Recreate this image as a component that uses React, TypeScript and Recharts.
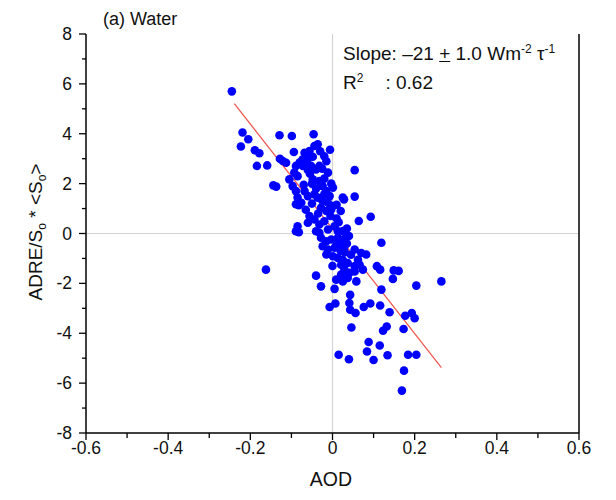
import { ReferenceLine, Scatter, ScatterChart, XAxis, YAxis } from 'recharts'

const aod = [
  -0.245, -0.219, -0.205, -0.223, -0.189, -0.178, -0.184, -0.159, -0.129, -0.099,
  -0.046, -0.006, -0.094, -0.128, -0.121, -0.144, -0.137, -0.089, -0.082, -0.085,
  -0.082, 0.054, 0.054, 0.028, 0.064, -0.105, -0.068, -0.056, -0.044, -0.036,
  -0.073, -0.061, -0.08, -0.089, -0.093, -0.085, -0.052, -0.04, -0.032, -0.011,
  -0.048, -0.032, -0.024, -0.097, -0.089, 0.001, 0.025, -0.068, -0.06, -0.044,
  -0.02, -0.007, -0.076, -0.085, -0.036, -0.024, -0.011, -0.028, -0.015, -0.003,
  -0.056, -0.044, -0.06, -0.032, -0.02, -0.089, 0.093, -0.04, -0.032, -0.011,
  0.005, 0.013, -0.028, -0.015, -0.003, 0.013, 0.021, -0.024, -0.011, 0.005,
  0.017, 0.029, 0.054, 0.07, 0.082, -0.015, 0.001, 0.013, 0.025, 0.037,
  0.021, 0.029, 0.041, 0.021, 0.054, 0.009, 0.025, 0.037, 0.058, -0.04,
  -0.028, 0.005, -0.162, -0.007, 0.007, 0.043, 0.041, 0.043, 0.056, 0.076,
  0.092, 0.116, 0.139, 0.177, 0.193, 0.2, 0.046, 0.123, 0.132, 0.173,
  0.088, 0.115, 0.084, 0.015, 0.04, 0.1, 0.134, 0.184, 0.204, 0.174,
  0.169, 0.204, 0.265, 0.119, 0.147, 0.149, 0.161, 0.108, 0.116, 0.054,
  0.066, 0.074, 0.119, -0.06, -0.048, -0.076, -0.072, -0.064, -0.113, -0.02,
  -0.03, -0.015, -0.02, -0.055, -0.003, 0.01, 0.02, 0.035, 0.04, -0.05,
  -0.065, 0.0, 0.01, 0.045, 0.03, 0.062, -0.05, -0.04, -0.025, -0.06,
  -0.015, 0.0, 0.01, -0.005, 0.015, 0.025, 0.03, -0.035, -0.07, 0.02,
  0.035,
]

const adre = [
  5.7, 4.05, 3.78, 3.49, 3.34, 3.22, 2.71, 2.73, 3.94, 3.91,
  3.98, 3.36, 3.27, 3.0, 2.91, 1.93, 1.88, 1.17, 1.13, 0.29,
  0.05, 2.54, 1.48, 1.37, 0.5, 2.17, 3.24, 3.31, 3.51, 3.58,
  2.97, 3.1, 2.85, 2.71, 2.44, 2.3, 2.71, 2.57, 2.71, 2.44,
  2.17, 2.1, 1.9, 1.9, 1.7, 1.84, 1.44, 1.7, 1.5, 1.57,
  1.57, 1.5, 1.23, 1.44, 1.44, 1.3, 1.23, 1.03, 0.9, 0.96,
  0.7, 0.56, 0.43, 0.36, 0.49, 0.09, 0.67, 0.09, 0.03, 0.16,
  0.29, 0.09, -0.17, -0.31, -0.24, -0.17, -0.31, -0.51, -0.64, -0.57,
  -0.57, -0.51, -0.64, -0.78, -0.84, -0.84, -0.91, -0.98, -1.05, -1.18,
  -1.25, -1.45, -1.58, -1.65, -1.52, -1.85, -1.92, -1.78, -1.92, -1.69,
  -2.12, -2.22, -1.45, -2.95, -2.81, -2.46, -2.79, -3.06, -3.19, -2.95,
  -2.81, -2.89, -3.16, -3.3, -3.19, -3.4, -3.77, -3.9, -3.73, -3.83,
  -4.35, -4.49, -4.73, -4.86, -5.04, -5.07, -4.88, -4.86, -4.86, -5.5,
  -6.3, -2.09, -1.92, -0.37, -1.82, -1.48, -1.5, -1.31, -1.45, -1.31,
  -1.25, -1.45, -2.25, 3.0, 3.08, 2.87, 2.71, 2.78, 2.84, 3.1,
  3.3, 2.9, 2.2, 2.4, 2.0, 0.6, 0.9, 0.2, -0.1, 1.2,
  0.95, -1.3, -0.45, -0.85, -0.75, -1.05, 2.0, 1.8, 2.6, 2.55,
  1.7, 1.1, 1.15, 0.7, 0.45, 0.1, -0.2, 0.8, 1.95, -0.7,
  -0.4,
]

// fitted line end points
const fitAod = [-0.239, 0.265]
const fitAdre = [5.21, -5.375]

const xTicks = [-0.6, -0.5, -0.4, -0.3, -0.2, -0.1, 0, 0.1, 0.2, 0.3, 0.4, 0.5, 0.6]
const xMajor = [-0.6, -0.4, -0.2, 0, 0.2, 0.4, 0.6]
const yTicks = [-8, -7, -6, -5, -4, -3, -2, -1, 0, 1, 2, 3, 4, 5, 6, 7, 8]
const yMajor = [-8, -6, -4, -2, 0, 2, 4, 6, 8]

const punkte = aod.map((x, i) => ({ x, y: adre[i] }))

const ehMajor = (lista: number[], v: number) => lista.some((m) => Math.abs(m - v) < 1e-9)
const fmtX = (v: number) => (Math.abs(v) < 1e-9 ? '0' : v.toFixed(1))

const XTick = (props: any) => {
  const { x, y, payload } = props
  const major = ehMajor(xMajor, payload.value)
  return (
    <g>
      <line x1={x} x2={x} y1={y} y2={y + (major ? 7 : 5)} stroke="#000" strokeWidth={1.3} />
      {major && (
        <text x={x} y={y + 21} textAnchor="middle" fontSize={17.5} fill="#111">
          {fmtX(payload.value)}
        </text>
      )}
    </g>
  )
}

const YTickEsq = (props: any) => {
  const { x, y, payload } = props
  const major = ehMajor(yMajor, payload.value)
  return (
    <g>
      <line x1={x} x2={x - (major ? 7 : 4)} y1={y} y2={y} stroke="#000" strokeWidth={1.3} />
      {major && (
        <text x={x - 14} y={y + 6} textAnchor="end" fontSize={17.5} fill="#111">
          {payload.value}
        </text>
      )}
    </g>
  )
}

const YTickDir = (props: any) => {
  const { x, y, payload } = props
  const major = ehMajor(yMajor, payload.value)
  return <line x1={x} x2={x + (major ? 7 : 4)} y1={y} y2={y} stroke="#000" strokeWidth={1.3} />
}

const Ponto = (props: any) => <circle cx={props.cx} cy={props.cy} r={4.3} fill="#0000ff" />

export default function App() {
  const fonte = '"Liberation Sans", Arial, sans-serif'
  return (
    <div
      style={{
        position: 'absolute',
        left: 0,
        top: 0,
        width: 616,
        height: 500,
        background: '#fff',
        fontFamily: fonte,
        color: '#111',
      }}
    >
      <ScatterChart width={616} height={500} margin={{ top: 34, right: 0, bottom: 0, left: 0 }}>
        <XAxis
          type="number"
          dataKey="x"
          domain={[-0.6, 0.6]}
          ticks={xTicks}
          interval={0}
          tick={XTick}
          tickLine={false}
          tickSize={0}
          tickMargin={0}
          height={67}
          axisLine={{ stroke: '#000', strokeWidth: 1.5 }}
        />
        <XAxis
          xAxisId="topo"
          orientation="top"
          type="number"
          domain={[-0.6, 0.6]}
          tick={false}
          tickLine={false}
          height={0}
          axisLine={{ stroke: '#000', strokeWidth: 1.5 }}
        />
        <YAxis
          type="number"
          dataKey="y"
          domain={[-8, 8]}
          ticks={yTicks}
          interval={0}
          tick={YTickEsq}
          tickLine={false}
          tickSize={0}
          tickMargin={0}
          width={86}
          axisLine={{ stroke: '#000', strokeWidth: 1.5 }}
        />
        <YAxis
          yAxisId="dir"
          orientation="right"
          type="number"
          domain={[-8, 8]}
          ticks={yTicks}
          interval={0}
          tick={YTickDir}
          tickLine={false}
          tickSize={0}
          tickMargin={0}
          width={37}
          axisLine={{ stroke: '#000', strokeWidth: 1.5 }}
        />
        <ReferenceLine x={0} stroke="#d4d4d4" strokeWidth={1.2} />
        <ReferenceLine y={0} stroke="#d4d4d4" strokeWidth={1.2} />
        <Scatter data={punkte} shape={Ponto} isAnimationActive={false} />
        <ReferenceLine
          segment={[
            { x: fitAod[0], y: fitAdre[0] },
            { x: fitAod[1], y: fitAdre[1] },
          ]}
          stroke="#f0504a"
          strokeWidth={1.2}
        />
      </ScatterChart>

      <div style={{ position: 'absolute', left: 103, top: 10, fontSize: 18, lineHeight: 1 }}>(a) Water</div>
      <div style={{ position: 'absolute', left: 343, top: 43, fontSize: 19, lineHeight: 1, whiteSpace: 'nowrap' }}>
        Slope: –21 <span style={{ textDecoration: 'underline' }}>+</span> 1.0 Wm
        <sup style={{ fontSize: 12 }}>-2</sup> τ<sup style={{ fontSize: 12 }}>-1</sup>
      </div>
      <div style={{ position: 'absolute', left: 343, top: 72, fontSize: 19, lineHeight: 1, whiteSpace: 'nowrap' }}>
        R<sup style={{ fontSize: 12 }}>2</sup>
        <span style={{ marginLeft: 22 }}>: 0.62</span>
      </div>
      <div
        style={{
          position: 'absolute',
          left: 331,
          top: 480,
          transform: 'translate(-50%, -50%)',
          fontSize: 19.5,
          lineHeight: 1,
        }}
      >
        AOD
      </div>
      <div
        style={{
          position: 'absolute',
          left: 37,
          top: 232,
          transform: 'translate(-50%, -50%) rotate(-90deg)',
          fontSize: 19,
          lineHeight: 1,
          whiteSpace: 'nowrap',
        }}
      >
        ADRE/S<sub style={{ fontSize: 12 }}>o</sub> * &lt;S<sub style={{ fontSize: 12 }}>o</sub>&gt;
      </div>
    </div>
  )
}
